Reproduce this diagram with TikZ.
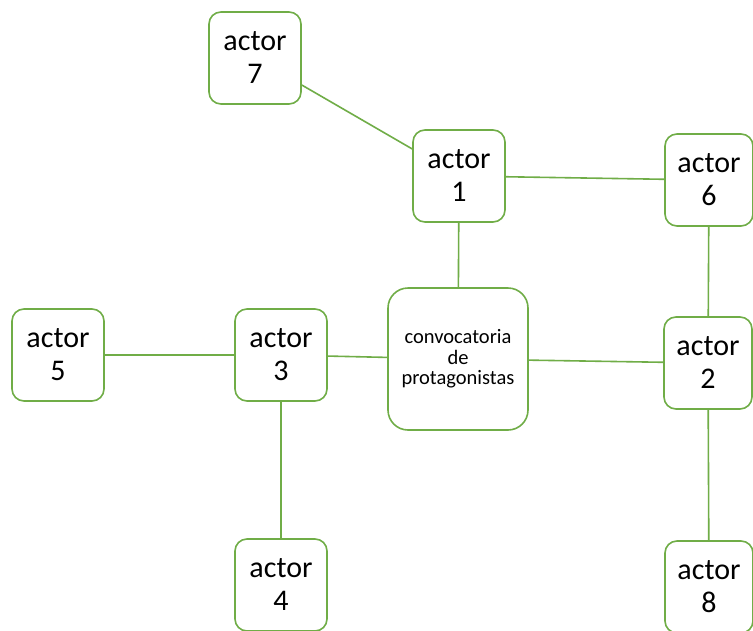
\documentclass[tikz,border=0pt]{standalone}
\usepackage{fontspec}
\setmainfont{Carlito}
\definecolor{actorgreen}{HTML}{70AD47}

\begin{document}
\begin{tikzpicture}[x=1pt,y=-1pt,
    actor/.style={draw=actorgreen, fill=white, line width=1.6pt, rounded corners=12pt,
      minimum width=92pt, minimum height=92pt, inner sep=0pt, align=center,
      font=\fontsize{30}{33}\selectfont},
    edge/.style={actor, minimum width=88pt},
    call/.style={actor, minimum width=140pt, minimum height=142pt, rounded corners=20pt,
      font=\fontsize{20.5}{20.5}\selectfont},
    link/.style={actorgreen, line width=1.6pt}]
  \fill[white] (0,0) rectangle (753,630);
  \useasboundingbox (0,0) rectangle (753,630);
  \node[call] (conv) at (458,359) {convocatoria\\de\\protagonistas};
  \node[actor] (a1) at (459,176) {actor\\1};
  \node[edge] (a2) at (708,363) {actor\\2};
  \node[actor] (a3) at (281,355) {actor\\3};
  \node[actor] (a4) at (281,585) {actor\\4};
  \node[actor] (a5) at (58,355) {actor\\5};
  \node[edge] (a6) at (709,180) {actor\\6};
  \node[actor] (a7) at (255,58) {actor\\7};
  \node[edge] (a8) at (709,587) {actor\\8};
  \foreach \a/\b in {a7/a1, a1/a6, a1/conv, a6/a2, conv/a2, a3/conv, a5/a3, a3/a4, a2/a8}{
    \draw[link] (\a) -- (\b);
  }
\end{tikzpicture}
\end{document}
